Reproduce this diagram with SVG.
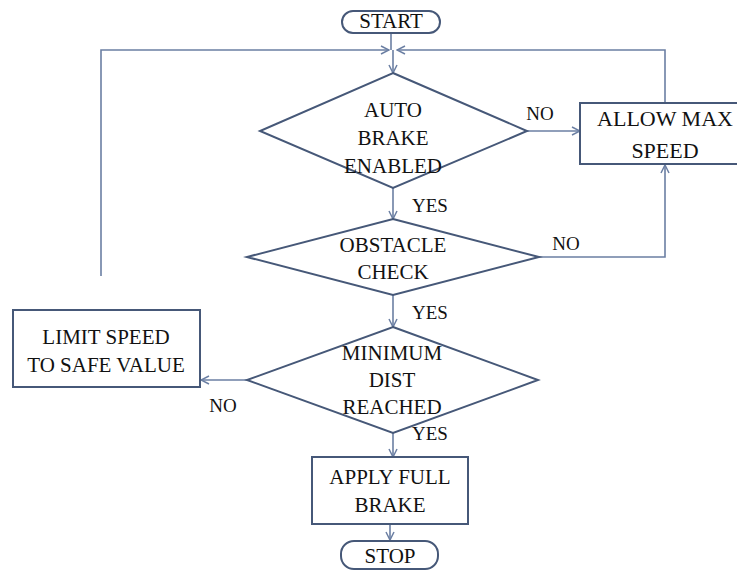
<svg xmlns="http://www.w3.org/2000/svg" width="737" height="571" viewBox="0 0 737 571">
<defs>
<marker id="ah" markerWidth="10" markerHeight="10" refX="9" refY="5" orient="auto" markerUnits="userSpaceOnUse">
<path d="M1,1 L9,5 L1,9" fill="none" stroke="#6b7fa3" stroke-width="1.5"/>
</marker>
</defs>
<style>
.shape{fill:#ffffff;stroke:#465878;stroke-width:2}
.conn{fill:none;stroke:#6b7fa3;stroke-width:1.6}
.t{font-family:"Liberation Serif","Times New Roman",serif;font-size:21px;fill:#111;text-anchor:middle}
.big{font-size:22px}
.l{font-family:"Liberation Serif","Times New Roman",serif;font-size:19px;fill:#111;text-anchor:middle}
</style>
<rect width="737" height="571" fill="#ffffff"/>
<g id="connectors">
<line class="conn" x1="391" y1="33" x2="391" y2="50"/>
<path class="conn" d="M101,276 L101,50 L389,50" marker-end="url(#ah)"/>
<path class="conn" d="M665,103 L665,50 L397,50" marker-end="url(#ah)"/>
<path class="conn" d="M393,50 L393,73" marker-end="url(#ah)"/>
<path class="conn" d="M527,131 L580,131" marker-end="url(#ah)"/>
<path class="conn" d="M393,188 L393,219" marker-end="url(#ah)"/>
<path class="conn" d="M539,257 L665,257 L665,165" marker-end="url(#ah)"/>
<path class="conn" d="M393,295 L393,327" marker-end="url(#ah)"/>
<path class="conn" d="M247,380 L201,380" marker-end="url(#ah)"/>
<path class="conn" d="M393,433 L393,457" marker-end="url(#ah)"/>
<path class="conn" d="M390,524 L390,540" marker-end="url(#ah)"/>
<text class="l" x="540" y="120">NO</text>
<text class="l" x="430" y="212">YES</text>
<text class="l" x="566" y="250">NO</text>
<text class="l" x="430" y="319">YES</text>
<text class="l" x="223" y="412">NO</text>
<text class="l" x="430" y="440">YES</text>
</g>
<g id="start">
<rect class="shape" x="342" y="11" width="98" height="22" rx="11"/>
<text class="t" x="391" y="28">START</text>
</g>
<g id="auto_brake">
<polygon class="shape" points="393,73 527,131 393,188 260,131"/>
<text class="t" x="393" y="117">AUTO</text>
<text class="t" x="393" y="145">BRAKE</text>
<text class="t" x="393" y="173">ENABLED</text>
</g>
<g id="allow_max">
<rect class="shape" x="580" y="103" width="170" height="61"/>
<text class="t big" x="665" y="126">ALLOW MAX</text>
<text class="t big" x="665" y="158">SPEED</text>
</g>
<g id="obstacle">
<polygon class="shape" points="393,219 539,257 393,295 247,257"/>
<text class="t" x="393" y="252">OBSTACLE</text>
<text class="t" x="393" y="279">CHECK</text>
</g>
<g id="limit_speed">
<rect class="shape" x="13" y="310" width="187" height="77"/>
<text class="t" x="106" y="344">LIMIT SPEED</text>
<text class="t" x="106" y="372">TO SAFE VALUE</text>
</g>
<g id="minimum_dist">
<polygon class="shape" points="393,327 538,380 393,433 247,380"/>
<text class="t" x="392" y="360">MINIMUM</text>
<text class="t" x="392" y="387">DIST</text>
<text class="t" x="392" y="414">REACHED</text>
</g>
<g id="apply_brake">
<rect class="shape" x="312" y="457" width="156" height="67"/>
<text class="t" x="390" y="484">APPLY FULL</text>
<text class="t" x="390" y="512">BRAKE</text>
</g>
<g id="stop">
<rect class="shape" x="341" y="541" width="97" height="28" rx="13"/>
<text class="t" x="390" y="563">STOP</text>
</g>
</svg>
